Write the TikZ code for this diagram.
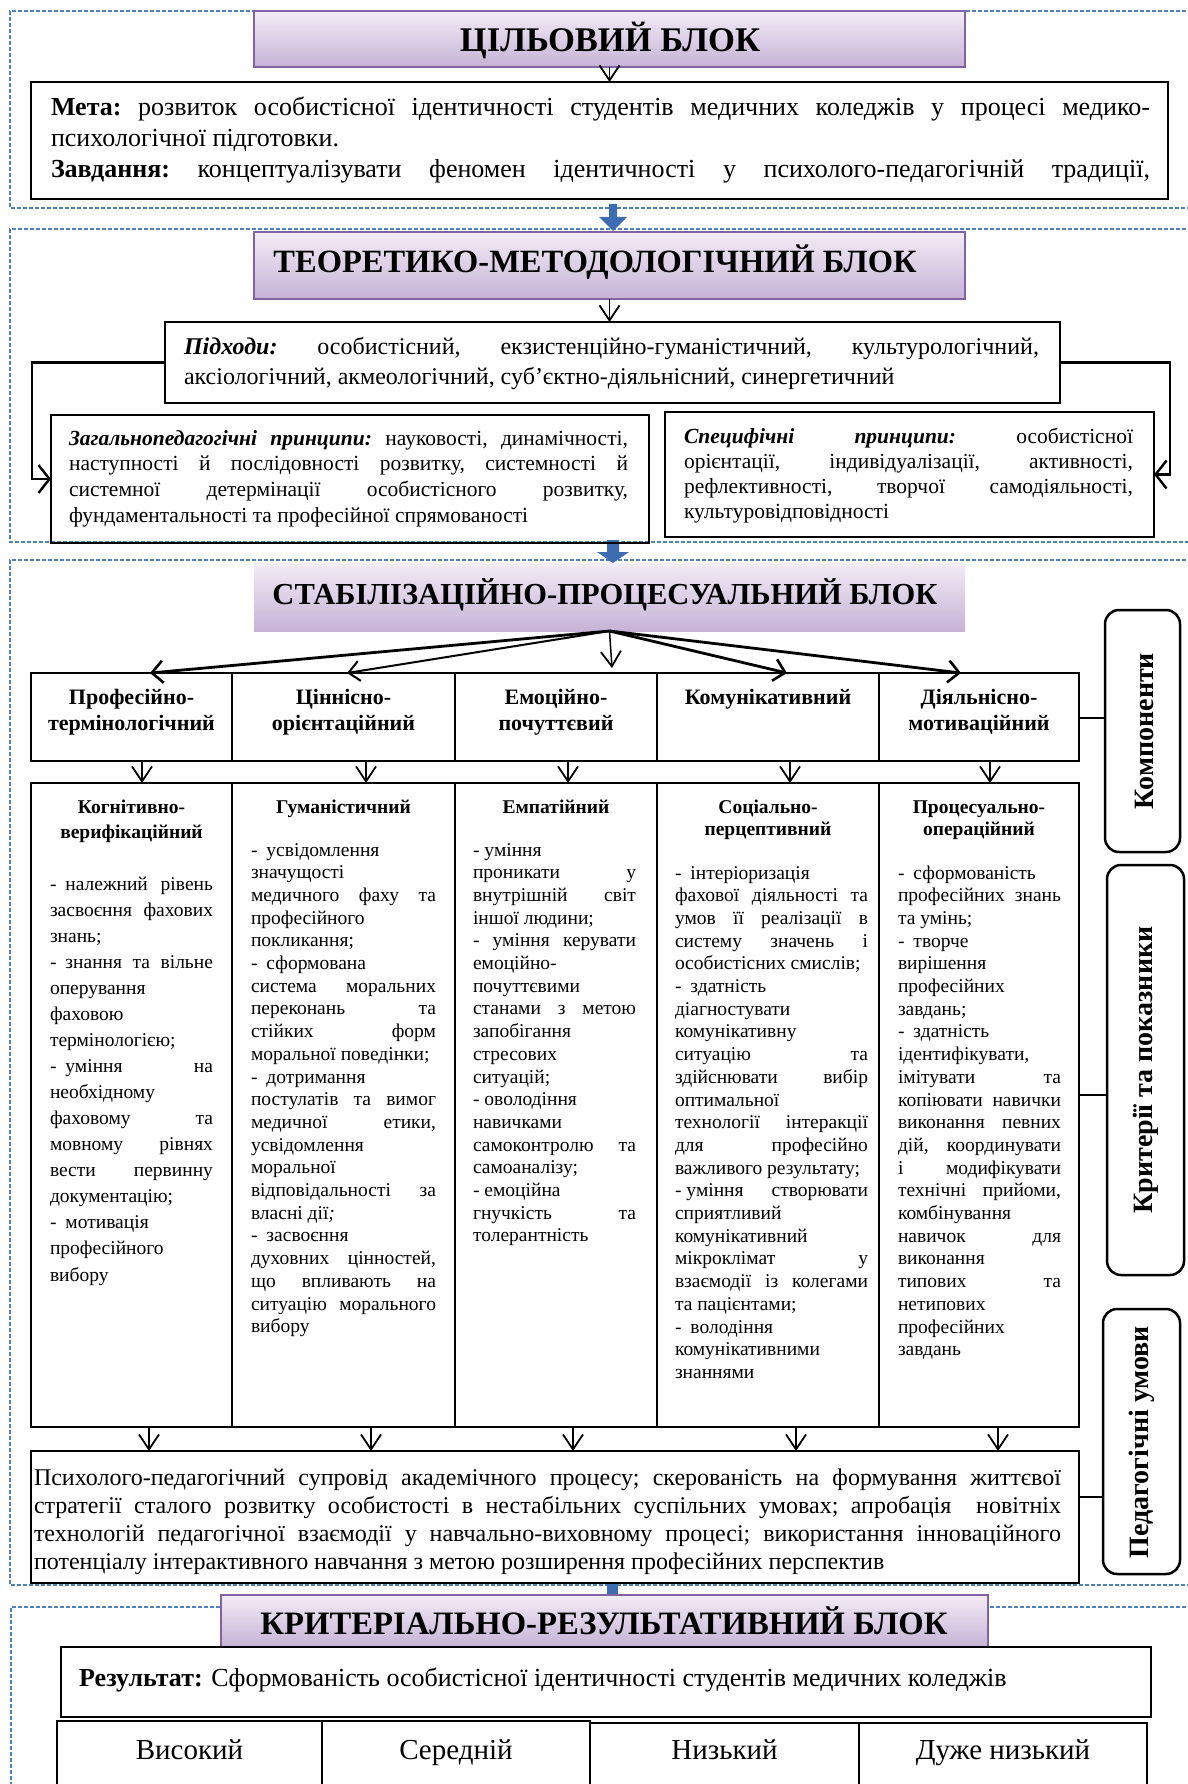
\documentclass[tikz,border=0pt]{standalone}
\usepackage{fontspec}
\setmainfont{Liberation Serif}
\usetikzlibrary{arrows.meta}
\definecolor{frameblue}{HTML}{4F81BD}
\definecolor{ttop}{HTML}{F3ECF6}
\definecolor{tbot}{HTML}{C6B2D6}
\definecolor{tborder}{HTML}{8064A2}
\definecolor{arrblue}{HTML}{3D6DB0}
\newcommand\J[1]{\noindent\makebox[\linewidth][s]{#1}\par}
\newcommand\Ln[1]{\noindent #1\par}
\newcommand\ds{-\hspace{9pt}}
\newcommand\dn{-\hspace{5pt}}
\newcommand\tb[7]{\node[anchor=base west,inner sep=0pt,outer sep=0pt] (#1) at (#2,#3) {\begin{minipage}[t]{#4pt}\frenchspacing\fontsize{#5}{#6}\selectfont #7\end{minipage}};}
\begin{document}
\begin{tikzpicture}[x=1pt,y=-1pt,
 frame/.style={draw=frameblue, line width=1.6pt, dash pattern=on 4pt off 2pt},
 titlebox/.style={top color=ttop, bottom color=tbot, draw=tborder, line width=2pt, inner sep=0pt, outer sep=0pt},
 bx/.style={draw=black, line width=2.5pt, inner sep=0pt, outer sep=0pt, anchor=north west},
 cell/.style={draw=black, line width=2pt, inner sep=0pt, outer sep=0pt, anchor=north west},
 lab/.style={draw=black, line width=2.5pt, rounded corners=14pt, inner sep=0pt, outer sep=0pt, anchor=north west},
 arr/.style={-{Straight Barb[length=15pt,width=20pt,line width=1.8pt]}, line width=1.5pt},
 arrthick/.style={-{Straight Barb[length=11pt,width=22pt,line width=2.6pt]}, line width=2.8pt},
 conn/.style={line width=2.5pt},
 ttext/.style={anchor=base, inner sep=0pt, font=\bfseries},
 vlab/.style={rotate=90, inner sep=0pt, font=\bfseries\fontsize{28}{32}\selectfont},
]
\useasboundingbox (0,0) rectangle (1187,1784);
% dashed frames
\draw[frame] (1192,11) -- (10,11) -- (10,208) -- (1192,208);
\draw[frame] (1192,229) -- (10,229) -- (10,542) -- (1192,542);
\draw[frame] (1192,560) -- (10,560) -- (10,1585) -- (1192,1585);
\draw[frame] (1192,1607) -- (11,1607) -- (11,1800);
% blue block arrows
\fill[arrblue] (609,204) -- (617,204) -- (617,217) -- (627,217) -- (613,231) -- (599,217) -- (609,217) -- cycle;
\fill[arrblue] (607,540) -- (619,540) -- (619,552) -- (629,552) -- (613,563) -- (597,552) -- (607,552) -- cycle;
\fill[arrblue] (607,1584) rectangle (618,1596);

% ===== Block 1
\node[titlebox, minimum width=711pt, minimum height=56pt] (t1) at (609.5,39) {};
\node[ttext] (t1t) at (610,52) {\resizebox{300pt}{!}{\bfseries ЦІЛЬОВИЙ БЛОК}};
\node[bx, minimum width=1137pt, minimum height=117pt] (meta) at (31,82) {};
\draw[arr] (t1.south) -- (t1.south |- meta.north);
\tb{metat}{51}{116}{1099}{26}{30.7}{%
\J{\textbf{Мета:} розвиток особистісної ідентичності студентів медичних коледжів у процесі медико-}
\Ln{психологічної підготовки.}
\J{\textbf{Завдання:} концептуалізувати феномен ідентичності у психолого-педагогічній традиції,}}

% ===== Block 2
\node[titlebox, minimum width=711pt, minimum height=67pt] (t2) at (609.5,265.5) {};
\node[ttext] (t2t) at (595,273) {\resizebox{643pt}{!}{\bfseries ТЕОРЕТИКО-МЕТОДОЛОГІЧНИЙ БЛОК}};
\node[bx, minimum width=895pt, minimum height=81pt] (pid) at (165,322) {};
\draw[arr] (t2.south) -- (t2.south |- pid.north);
\tb{pidt}{184}{354}{855}{24}{30}{%
\J{\textbf{\textit{Підходи:}} особистісний, екзистенційно-гуманістичний, культурологічний,}
\Ln{аксіологічний, акмеологічний, суб’єктно-діяльнісний, синергетичний}}
\node[bx, minimum width=598pt, minimum height=128pt] (lbox) at (51,415) {};
\node[bx, minimum width=489pt, minimum height=125pt] (rbox) at (665,412) {};
\tb{lboxt}{69}{445}{559}{21.5}{25.8}{%
\J{\textbf{\textit{Загальнопедагогічні принципи:}} науковості, динамічності,}
\J{наступності й послідовності розвитку, системності й}
\J{системної детермінації особистісного розвитку,}
\Ln{фундаментальності та професійної спрямованості}}
\tb{rboxt}{684}{443}{449}{21.5}{25.3}{%
\J{\textbf{\textit{Специфічні}} \textbf{\textit{принципи:}} особистісної}
\J{орієнтації, індивідуалізації, активності,}
\J{рефлективності, творчої самодіяльності,}
\Ln{культуровідповідності}}
\coordinate (lx) at (32,0);
\coordinate (rx) at (1170,0);
\draw[conn,-{Straight Barb[length=11pt,width=28pt,line width=2.4pt]}] (pid.west) -| (lx |- lbox.west) -- (lbox.west);
\draw[conn,-{Straight Barb[length=11pt,width=28pt,line width=2.4pt]}] (pid.east) -| (rx |- rbox.east) -- (rbox.east);

% ===== Block 3
\node[top color=ttop, bottom color=tbot, inner sep=0pt, outer sep=0pt, minimum width=711pt, minimum height=68pt] (t3) at (609.5,597) {};
\node[ttext] (t3t) at (605,604) {\resizebox{665pt}{!}{\bfseries СТАБІЛІЗАЦІЙНО-ПРОЦЕСУАЛЬНИЙ БЛОК}};
% component cells
\node[cell, minimum width=201pt, minimum height=88pt] (comp1) at (31,673) {};
\node[cell, minimum width=223pt, minimum height=88pt] (comp2) at (232,673) {};
\node[cell, minimum width=202pt, minimum height=88pt] (comp3) at (455,673) {};
\node[cell, minimum width=222pt, minimum height=88pt] (comp4) at (657,673) {};
\node[cell, minimum width=200pt, minimum height=88pt] (comp5) at (879,673) {};
\tb{comp1t}{31}{704}{201}{22}{26.5}{\centering\bfseries Професійно-\\термінологічний\par}
\tb{comp2t}{232}{704}{223}{22}{26.5}{\centering\bfseries Ціннісно-\\орієнтаційний\par}
\tb{comp3t}{455}{704}{202}{22}{26.5}{\centering\bfseries Емоційно-\\почуттєвий\par}
\tb{comp4t}{657}{704}{222}{22}{26.5}{\centering\bfseries Комунікативний\par}
\tb{comp5t}{879}{704}{200}{22}{26.5}{\centering\bfseries Діяльнісно-\\мотиваційний\par}
% fan arrows
\coordinate (e1) at (150,673);
\coordinate (e2) at (347,673);
\coordinate (e3) at (612,668);
\coordinate (e4) at (787,673);
\coordinate (e5) at (961,673);
\draw[arrthick] (t3.south) -- (e1);
\draw[-{Straight Barb[length=11pt,width=20pt,line width=2pt]}, line width=2pt] (t3.south) -- (e2);
\draw[arr] (t3.south) -- (e3);
\draw[arrthick] (t3.south) -- (e4);
\draw[arrthick] (t3.south) -- (e5);
% criteria cells
\node[cell, minimum width=201pt, minimum height=644pt] (crit1) at (31,783) {};
\node[cell, minimum width=223pt, minimum height=644pt] (crit2) at (232,783) {};
\node[cell, minimum width=202pt, minimum height=644pt] (crit3) at (455,783) {};
\node[cell, minimum width=222pt, minimum height=644pt] (crit4) at (657,783) {};
\node[cell, minimum width=200pt, minimum height=644pt] (crit5) at (879,783) {};
\coordinate (d1) at (142,0);
\coordinate (d2) at (366,0);
\coordinate (d3) at (568,0);
\coordinate (d4) at (790,0);
\coordinate (d5) at (990,0);
\draw[arr] (comp1.south -| d1) -- (crit1.north -| d1);
\draw[arr] (comp2.south -| d2) -- (crit2.north -| d2);
\draw[arr] (comp3.south -| d3) -- (crit3.north -| d3);
\draw[arr] (comp4.south -| d4) -- (crit4.north -| d4);
\draw[arr] (comp5.south -| d5) -- (crit5.north -| d5);
% criteria titles
\tb{h1}{31}{813}{201}{19.5}{25}{\centering\bfseries Когнітивно-\\верифікаційний\par}
\tb{h2}{232}{813}{223}{19.5}{25}{\centering\bfseries Гуманістичний\par}
\tb{h3}{455}{813}{202}{19.5}{25}{\centering\bfseries Емпатійний\par}
\tb{h4}{657}{813}{222}{19.5}{22}{\centering\bfseries Соціально-\\перцептивний\par}
\tb{h5}{879}{813}{200}{19.5}{22}{\centering\bfseries Процесуально-\\операційний\par}
% criteria bodies
\tb{b1}{50}{890}{163}{19.5}{26.07}{%
\J{\ds належний рівень}
\J{засвоєння фахових}
\Ln{знань;}
\J{\ds знання та вільне}
\Ln{оперування}
\Ln{фаховою}
\Ln{термінологією;}
\J{\ds уміння на}
\Ln{необхідному}
\J{фаховому та}
\J{мовному рівнях}
\J{вести первинну}
\Ln{документацію;}
\Ln{\ds мотивація}
\Ln{професійного}
\Ln{вибору}}
\tb{b2}{251}{856}{185}{19.5}{22.7}{%
\Ln{\ds усвідомлення}
\Ln{значущості}
\J{медичного фаху та}
\Ln{професійного}
\Ln{покликання;}
\Ln{\ds сформована}
\J{система моральних}
\J{переконань та}
\J{стійких форм}
\Ln{моральної поведінки;}
\Ln{\ds дотримання}
\J{постулатів та вимог}
\J{медичної етики,}
\Ln{усвідомлення}
\Ln{моральної}
\J{відповідальності за}
\Ln{власні дії\textit{;}}
\Ln{\ds засвоєння}
\J{духовних цінностей,}
\J{що впливають на}
\J{ситуацію морального}
\Ln{вибору}}
\tb{b3}{473}{856}{163}{19.5}{22.7}{%
\Ln{\dn уміння}
\J{проникати у}
\J{внутрішній світ}
\Ln{іншої людини;}
\J{- уміння керувати}
\Ln{емоційно-}
\Ln{почуттєвими}
\J{станами з метою}
\Ln{запобігання}
\Ln{стресових}
\Ln{ситуацій;}
\Ln{\dn оволодіння}
\Ln{навичками}
\J{самоконтролю та}
\Ln{самоаналізу;}
\Ln{\dn емоційна}
\J{гнучкість та}
\Ln{толерантність}}
\tb{b4}{675}{879}{193}{19.5}{22.7}{%
\Ln{\ds інтеріоризація}
\J{фахової діяльності та}
\J{умов її реалізації в}
\J{систему значень і}
\Ln{особистісних смислів;}
\Ln{\ds здатність}
\Ln{діагностувати}
\Ln{комунікативну}
\J{ситуацію та}
\J{здійснювати вибір}
\Ln{оптимальної}
\J{технології інтеракції}
\J{для професійно}
\Ln{важливого результату;}
\J{\dn уміння створювати}
\Ln{сприятливий}
\Ln{комунікативний}
\J{мікроклімат у}
\J{взаємодії із колегами}
\Ln{та пацієнтами;}
\Ln{\ds володіння}
\Ln{комунікативними}
\Ln{знаннями}}
\tb{b5}{898}{879}{163}{19.5}{22.7}{%
\Ln{\ds сформованість}
\J{професійних знань}
\Ln{та умінь;}
\Ln{\ds творче}
\Ln{вирішення}
\Ln{професійних}
\Ln{завдань;}
\Ln{\ds здатність}
\Ln{ідентифікувати,}
\J{імітувати та}
\J{копіювати навички}
\J{виконання певних}
\J{дій, координувати}
\J{і модифікувати}
\J{технічні прийоми,}
\Ln{комбінування}
\J{навичок для}
\Ln{виконання}
\J{типових та}
\Ln{нетипових}
\Ln{професійних}
\Ln{завдань}}
% conditions box
\node[bx, minimum width=1048pt, minimum height=132pt] (cond) at (31,1451) {};
\coordinate (f1) at (149,0);
\coordinate (f2) at (371,0);
\coordinate (f3) at (573,0);
\coordinate (f4) at (796,0);
\coordinate (f5) at (998,0);
\draw[arr] (crit1.south -| f1) -- (cond.north -| f1);
\draw[arr] (crit2.south -| f2) -- (cond.north -| f2);
\draw[arr] (crit3.south -| f3) -- (cond.north -| f3);
\draw[arr] (crit4.south -| f4) -- (cond.north -| f4);
\draw[arr] (crit5.south -| f5) -- (cond.north -| f5);
\tb{condt}{34}{1485}{1027}{24}{28}{%
\J{Психолого-педагогічний супровід академічного процесу; скерованість на формування життєвої}
\J{стратегії сталого розвитку особистості в нестабільних суспільних умовах; апробація\ \ новітніх}
\J{технологій педагогічної взаємодії у навчально-виховному процесі; використання інноваційного}
\Ln{потенціалу інтерактивного навчання з метою розширення професійних перспектив}}
% side labels
\node[lab, minimum width=75pt, minimum height=242pt] (lab1) at (1105,610) {};
\node[lab, minimum width=77pt, minimum height=410pt] (lab2) at (1107,865) {};
\node[lab, minimum width=77pt, minimum height=265pt] (lab3) at (1103,1309) {};
\node[vlab] (lab1t) at (1144,731) {Компоненти};
\node[vlab] (lab2t) at (1146,1070) {Критерії та показники};
\node[vlab] (lab3t) at (1142,1442) {Педагогічні умови};
\coordinate (k1) at (0,718);
\coordinate (k2) at (0,1095);
\coordinate (k3) at (0,1497);
\draw[line width=2pt] (comp5.east |- k1) -- (lab1.west |- k1);
\draw[line width=2pt] (crit5.east |- k2) -- (lab2.west |- k2);
\draw[line width=2pt] (cond.east |- k3) -- (lab3.west |- k3);

% ===== Block 4
\node[titlebox, minimum width=767pt, minimum height=52pt] (t4) at (604.5,1621) {};
\node[ttext] (t4t) at (604,1634) {\resizebox{687pt}{!}{\bfseries КРИТЕРІАЛЬНО-РЕЗУЛЬТАТИВНИЙ БЛОК}};
\node[bx, minimum width=1090pt, minimum height=70pt] (res) at (61,1647) {};
\node[anchor=base west, inner sep=0pt] (rest) at (79,1686) {\fontsize{26}{30}\selectfont\textbf{Результат:} Сформованість особистісної ідентичності студентів медичних коледжів};
\node[bx, minimum width=265pt, minimum height=90pt] (lev1) at (57,1721) {};
\node[bx, minimum width=268pt, minimum height=90pt] (lev2) at (322,1721) {};
\node[bx, minimum width=269pt, minimum height=90pt] (lev3) at (590,1723) {};
\node[bx, minimum width=288pt, minimum height=90pt] (lev4) at (859,1723) {};
\node[anchor=base, inner sep=0pt, font=\fontsize{29}{33}\selectfont] (lev1t) at (189.5,1759) {Високий};
\node[anchor=base, inner sep=0pt, font=\fontsize{29}{33}\selectfont] (lev2t) at (456,1759) {Середній};
\node[anchor=base, inner sep=0pt, font=\fontsize{29}{33}\selectfont] (lev3t) at (724.5,1759) {Низький};
\node[anchor=base, inner sep=0pt, font=\fontsize{29}{33}\selectfont] (lev4t) at (1003,1759) {Дуже низький};
\end{tikzpicture}
\end{document}
